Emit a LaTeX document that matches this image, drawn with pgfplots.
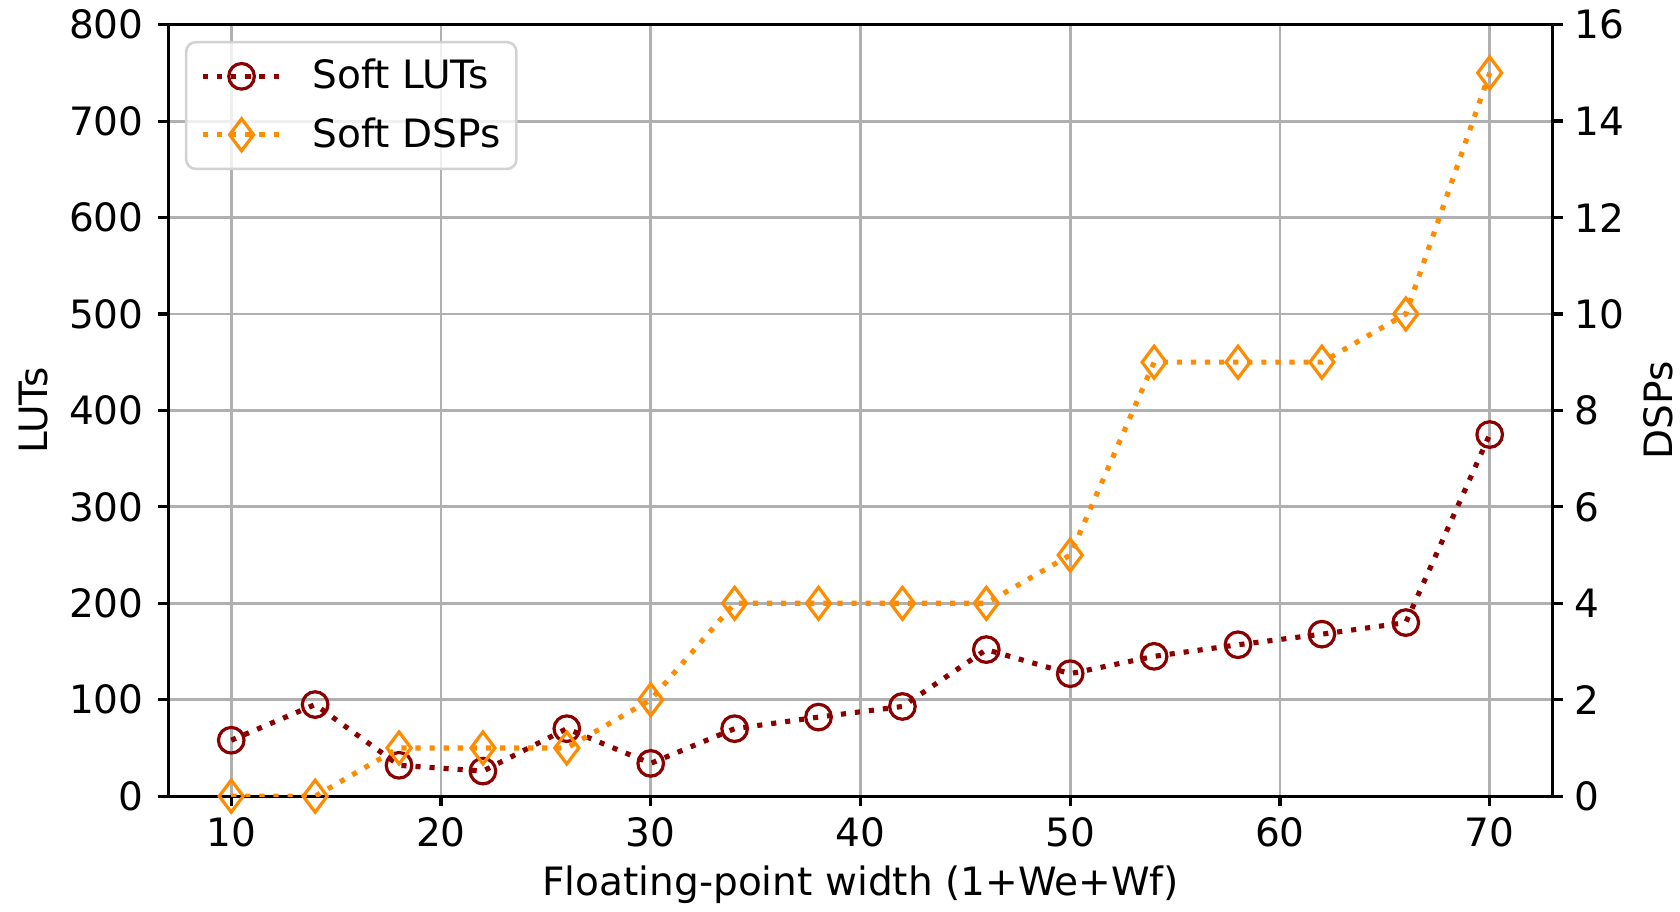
\documentclass[border=0pt]{standalone}
\usepackage{fontspec}
\setmainfont{DejaVu Sans}
\usepackage{pgfplots}
\pgfplotsset{compat=1.18}
\definecolor{lutc}{HTML}{8B0000}
\definecolor{dspc}{HTML}{FF8C00}
\definecolor{gridc}{HTML}{B0B0B0}
\newcommand{\ff}{\fontsize{12.2pt}{14.5pt}\selectfont}
\begin{document}
\begin{tikzpicture}[font=\ff]
\pgfplotsset{
  every axis/.append style={
    scale only axis, width=432.6pt, height=241.1pt,
    xmin=7, xmax=73,
    axis line style={line width=1pt},
    tick align=outside, major tick length=3.2pt,
    every tick/.style={black, line width=1pt},
    /pgf/number format/assume math mode=true,
    tick label style={font=\ff},
    label style={font=\ff},
    grid style={gridc, line width=0.9pt},
  },
  mydot/.style={line width=1.6pt, dash pattern=on 1.6pt off 2.8pt},
  limg/.style={legend image code/.code={
    \draw[mark repeat=2, mark phase=2, ##1] plot coordinates {(0pt,0pt) (12pt,0pt) (24pt,0pt)};}},
}
\begin{axis}[
  at={(0,0)}, anchor=south west,
  ymin=0, ymax=800,
  axis y line*=left, axis x line*=bottom,
  xtick={10,20,...,70},
  ytick={0,100,...,800},
  yticklabel style={xshift=-1pt},
  grid=major,
  xlabel={Floating-point width (1+We+Wf)},
  ylabel={LUTs},
  x label style={at={(axis description cs:0.5,-0.115)}, anchor=center},
  y label style={at={(axis description cs:-0.097,0.5)}, anchor=center},
]
\addplot[lutc, mydot, mark=o, mark size=4pt, mark options={solid, line width=1pt}]
coordinates {
(10,58) (14,95) (18,32) (22,26) (26,70) (30,34) (34,70) (38,82) (42,93)
(46,152) (50,127) (54,145) (58,157) (62,168) (66,180) (70,375)
};
\end{axis}
\begin{axis}[
  at={(0,0)}, anchor=south west,
  ymin=0, ymax=16,
  axis y line*=right, axis x line*=top,
  xtick=\empty,
  ytick={0,2,...,16},
  ylabel={DSPs},
  y label style={at={(axis description cs:1.0765,0.5)}, anchor=center},
  legend cell align=left,
  legend style={at={(0.012,0.979)}, anchor=north west, draw=gray!35, line width=0.8pt,
    rounded corners=3pt, fill=white, fill opacity=0.8, text opacity=1,
    font=\ff, inner xsep=4.5pt, inner ysep=2.3pt,
    row sep=1.5pt,
    nodes={inner xsep=0.5pt, inner ysep=3pt},
    /tikz/every odd column/.append style={column sep=9pt}},
  limg,
]
\addlegendimage{lutc, mydot, mark=o, mark size=4pt, mark options={solid, line width=1pt}}
\addlegendentry{Soft LUTs}
\addplot[dspc, mydot, mark=diamond, mark size=5pt, mark options={solid, line width=1pt}]
coordinates {
(10,0) (14,0) (18,1) (22,1) (26,1) (30,2) (34,4) (38,4) (42,4)
(46,4) (50,5) (54,9) (58,9) (62,9) (66,10) (70,15)
};
\addlegendentry{Soft DSPs}
\end{axis}
\pgfresetboundingbox
\path[use as bounding box] (-52.6pt,-36pt) rectangle (472.4pt,248.8pt);
\end{tikzpicture}
\end{document}
